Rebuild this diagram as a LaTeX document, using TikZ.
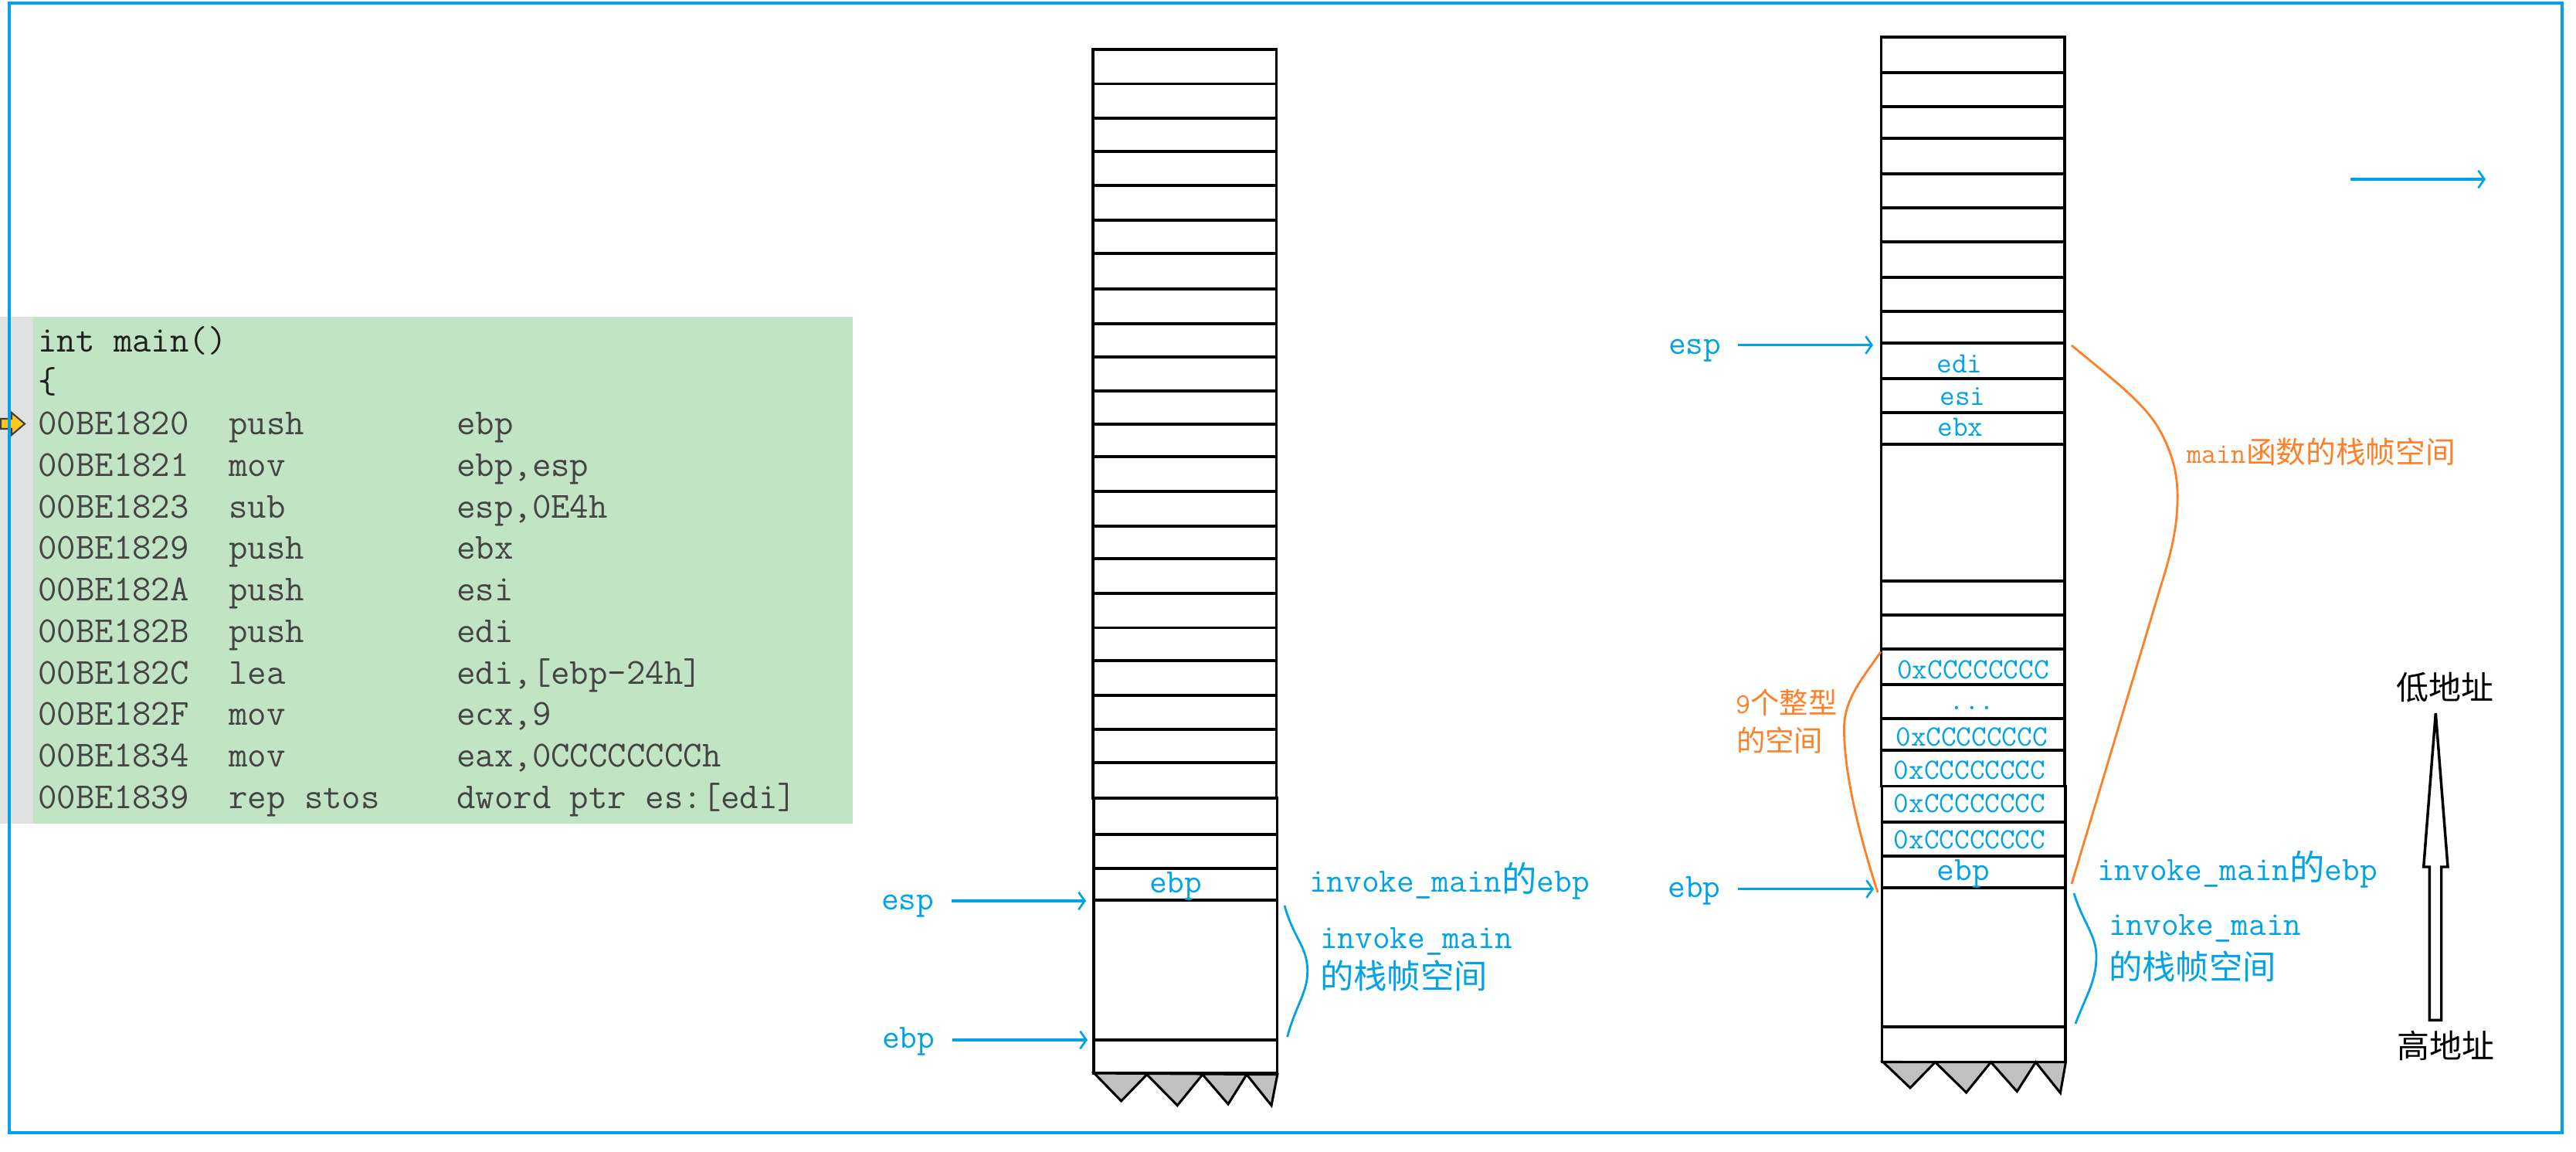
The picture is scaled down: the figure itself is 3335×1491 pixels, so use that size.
\documentclass[tikz,border=0pt]{standalone}
\usepackage{fontspec}
\usetikzlibrary{arrows.meta}
\newfontfamily\cjk{Noto Sans CJK SC}
\newcommand\zh[2]{{\fontsize{#1}{#1}\cjk #2}}
\definecolor{sblue}{HTML}{00A2E8}
\definecolor{sorange}{HTML}{FF7F27}
\definecolor{codegreen}{HTML}{C1E4C4}
\definecolor{codegray}{HTML}{E0E1E3}
\definecolor{codetxt}{HTML}{444444}
\definecolor{codeblk}{HTML}{1E1E1E}
\definecolor{toothgray}{HTML}{C0C0C0}
\definecolor{ptrfill}{HTML}{FFC81E}
\tikzset{
  x=0.75pt,y=-0.75pt,
  stackline/.style={draw=black,line width=2.3pt,line join=miter},
  tooth/.style={draw=black,fill=toothgray,line width=2.3pt,line join=miter},
  ptr/.style={-{Straight Barb[length=6pt,width=17pt,line width=2pt]},draw=sblue,line width=2.6pt},
  brc/.style={draw=sblue,line width=2.1pt},
  orc/.style={draw=sorange,line width=2.1pt},
  lbl/.style={inner sep=0pt,text=sblue,font=\fontsize{33}{36}\ttfamily,anchor=mid,yshift=-5pt},
  lblw/.style={lbl,anchor=mid west},
  cell/.style={lbl,font=\fontsize{28.6}{32}\ttfamily,yshift=-6pt},
  orl/.style={inner sep=0pt,text=sorange,anchor=mid west,font=\fontsize{28}{32}\ttfamily,yshift=-7pt},
  addrlbl/.style={inner sep=0pt,text=black,anchor=center,font=\fontsize{31.5}{34}\cjk},
  code/.style={inner sep=0pt,anchor=base west,text=codetxt,font=\fontsize{35.6}{40}\ttfamily},
  codek/.style={code,text=codeblk},
}
\newcommand\codeline[5]{%
  \node[code] (a#1) at (49,#2) {#3};
  \node[code] (m#1) at (296,#2) {#4};
  \node[code] (o#1) at (591,#2) {#5};
}
\begin{document}
\begin{tikzpicture}
\useasboundingbox (0,0) rectangle (3335,1491);
\fill[white] (0,0) rectangle (3335,1491);
% code panel
\fill[codegray] (0,410) rectangle (43,1066);
\fill[codegreen] (43,410) rectangle (1104,1066);
\node[codek] (l0) at (49,455) {int main()};
\node[codek] (l1) at (49,508.7) {\{};
\codeline{2}{562.5}{00BE1820}{push}{ebp}
\codeline{3}{616.2}{00BE1821}{mov}{ebp,esp}
\codeline{4}{670}{00BE1823}{sub}{esp,0E4h}
\codeline{5}{723.7}{00BE1829}{push}{ebx}
\codeline{6}{777.5}{00BE182A}{push}{esi}
\codeline{7}{831.2}{00BE182B}{push}{edi}
\codeline{8}{885}{00BE182C}{lea}{edi,[ebp-24h]}
\codeline{9}{938.7}{00BE182F}{mov}{ecx,9}
\codeline{10}{992.5}{00BE1834}{mov}{eax,0CCCCCCCCh}
\codeline{11}{1046.2}{00BE1839}{rep stos}{dword ptr es:[edi]}
% pointer
\filldraw[fill=ptrfill,draw=black!75,line width=1.6pt,line join=miter]
  (1,542) -- (15,542) -- (15,534) -- (32,548.5) -- (15,563) -- (15,555) -- (1,555) -- cycle;
% frame
\draw[sblue,line width=2.4pt] (12,4) rectangle (3317,1466);

% stack 1
\draw[stackline] (1415,64) rectangle (1652.5,1033);
\foreach \y in {108.5,153,196,240,285,328,374,419,462,506,549,591,636,681,723,768,812.5,855,900,944,987}
  \draw[stackline] (1415,\y) -- (1652.5,\y);
\draw[stackline] (1416,1033) rectangle (1653.5,1389);
\foreach \y in {1080,1124,1165,1346}
  \draw[stackline] (1416,\y) -- (1653.5,\y);
\filldraw[tooth] (1416.6,1389) -- (1451.6,1425) -- (1484.8,1390.7) -- (1524.3,1430.7) -- (1556.9,1390.7) -- (1590,1429) -- (1614,1390.7) -- (1646,1430.7) -- (1653.8,1390.7) -- cycle;

% stack 2
\draw[stackline] (2435.4,48) rectangle (2673,1017.6);
\foreach \y in {94,138,179,225,269,313,359,403,444,490,534,575,752,796,840,886,930,971}
  \draw[stackline] (2435.4,\y) -- (2673,\y);
\draw[stackline] (2436.5,1017.6) rectangle (2674,1374.5);
\foreach \y in {1064,1108,1149,1329}
  \draw[stackline] (2436.5,\y) -- (2674,\y);
\filldraw[tooth] (2437.8,1374.5) -- (2473,1408) -- (2505.4,1374.7) -- (2545.6,1414) -- (2577.5,1374.7) -- (2611.3,1412.7) -- (2635.5,1374.7) -- (2667.4,1414.5) -- (2674.4,1374.7) -- cycle;

% labels stack 1
\node[lbl] (esp1) at (1175,1168) {esp};
\node[lbl] (ebp1) at (1176,1347) {ebp};
\node[lbl] (cell1) at (1522,1146) {ebp};
\node[lblw] (inv1) at (1695,1145) {invoke\_main\zh{34}{的}ebp};
\node[lblw] (inv1b) at (1709,1218) {invoke\_main};
\node[lblw] (fr1) at (1709,1270) {\zh{32.5}{的栈帧空间}};
\coordinate (esp1s) at (1232,1166);
\coordinate (esp1t) at (1406,1166);
\coordinate (ebp1s) at (1233,1346);
\coordinate (ebp1t) at (1408,1346);
\draw[ptr] (esp1s) -- (esp1t);
\draw[ptr] (ebp1s) -- (ebp1t);
\coordinate (b1a) at (1663,1172);
\coordinate (b1m) at (1692.7,1257);
\coordinate (b1b) at (1666.6,1342);
\draw[brc] (b1a) .. controls (1675,1215) and (1692.7,1225) .. (b1m) .. controls (1692.7,1285) and (1678,1300) .. (b1b);

% labels stack 2
\node[lbl] (esp2) at (2194,449) {esp};
\node[lbl] (ebp2) at (2193.6,1152) {ebp};
\node[cell] (c1) at (2537,465) {edi};
\node[cell] (c2) at (2541,507) {esi};
\node[cell] (c3) at (2538,547) {ebx};
\node[cell] (c4) at (2554.5,861) {0xCCCCCCCC};
\node[cell] (c5) at (2553,901) {...};
\node[cell] (c6) at (2552.6,948) {0xCCCCCCCC};
\node[cell] (c7) at (2550,991) {0xCCCCCCCC};
\node[cell] (c8) at (2550,1034) {0xCCCCCCCC};
\node[cell] (c9) at (2550,1081) {0xCCCCCCCC};
\node[lbl] (c10) at (2541.8,1130) {ebp};
\node[lblw] (inv2) at (2715,1129.6) {invoke\_main\zh{34}{的}ebp};
\node[lblw] (inv2b) at (2730,1201) {invoke\_main};
\node[lblw] (fr2) at (2730,1258) {\zh{32.5}{的栈帧空间}};
\node[orl] (mainl) at (2831,587) {main\zh{29}{函数的栈帧空间}};
\node[orl] (nine) at (2247,911) {9\zh{28}{个整型}};
\node[orl] (nineb) at (2248,960) {\zh{28}{的空间}};
\coordinate (esp2s) at (2250,446.6);
\coordinate (esp2t) at (2425,446.6);
\coordinate (ebp2s) at (2250,1150.6);
\coordinate (ebp2t) at (2426,1150.6);
\coordinate (tops) at (3042.5,232);
\coordinate (topt) at (3218,232);
\draw[ptr] (esp2s) -- (esp2t);
\draw[ptr] (ebp2s) -- (ebp2t);
\draw[ptr] (tops) -- (topt);
\coordinate (b2a) at (2685,1156);
\coordinate (b2m) at (2714,1238);
\coordinate (b2b) at (2687,1325);
\draw[brc] (b2a) .. controls (2697,1195) and (2714,1210) .. (b2m) .. controls (2714,1270) and (2700,1290) .. (b2b);
\coordinate (o1a) at (2682,447);
\coordinate (o1b) at (2682,1144);
\draw[orc] (o1a) .. controls (2730,487) and (2775,520) .. (2795,555) .. controls (2815,590) and (2820,620) .. (2819,650) .. controls (2818,690) and (2808,725) .. (2797,760) -- (o1b);
\coordinate (o2a) at (2435,843.5);
\coordinate (o2b) at (2431,1155);
\draw[orc] (o2a) .. controls (2410,880) and (2387,905) .. (2387.4,945) .. controls (2388,1000) and (2405,1075) .. (o2b);

% big arrow and address labels
\node[addrlbl] (low) at (3165,890) {低地址};
\node[addrlbl] (high) at (3166,1353) {高地址};
\draw[draw=black,fill=white,line width=2.6pt,line join=miter]
  (3153.3,923) -- (3169,1122) -- (3160.7,1122) -- (3160.7,1320.4) -- (3145.3,1320.4) -- (3145.3,1122) -- (3137.7,1122) -- cycle;
\end{tikzpicture}
\end{document}
